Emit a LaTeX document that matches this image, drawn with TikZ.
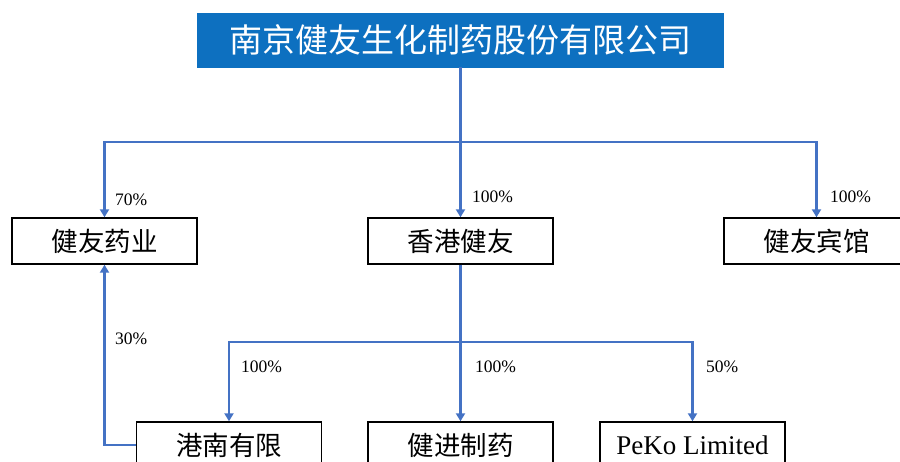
\documentclass[tikz,border=0pt]{standalone}
\usepackage{fontspec}
\setmainfont{Liberation Serif}
\newfontfamily\cjk{Noto Sans CJK SC}
\usetikzlibrary{arrows.meta}
\definecolor{headBlue}{HTML}{0D70C0}
\definecolor{lineBlue}{HTML}{4472C4}

\begin{document}
\begin{tikzpicture}[x = 1pt, y = -1pt]
	\tikzstyle{headStyle} = [draw = headBlue, fill = headBlue, text = white, minimum width = 526pt, minimum height = 54pt, inner sep = 0pt, font = \cjk\fontsize{33}{33}\selectfont]
	\tikzstyle{boxStyle} = [draw = black, line width = 1.4pt, minimum width = 185pt, minimum height = 46pt, inner sep = 0pt, font = \cjk\fontsize{26.5}{26.5}\selectfont]
	\tikzstyle{linkStyle} = [draw = lineBlue, line width = 2.8pt]
	\tikzstyle{arrowStyle} = [linkStyle, -{Triangle[width = 9pt, length = 8pt]}]
	\tikzstyle{shareStyle} = [anchor = west, inner sep = 0pt, font = \fontsize{17.5}{17.5}\selectfont]
	\clip (0, 0) rectangle (900, 462);
	\node[headStyle] (head) at (460.5, 40) {南京健友生化制药股份有限公司};
	\node[boxStyle] (yaoye) at (104.5, 241) {健友药业};
	\node[boxStyle] (xianggang) at (460.5, 241) {香港健友};
	\node[boxStyle] (binguan) at (816.5, 241) {健友宾馆};
	\node[boxStyle] (gangnan) at (229, 445) {港南有限};
	\node[boxStyle] (jianjin) at (460.5, 445) {健进制药};
	\node[boxStyle, font = \fontsize{27}{27}\selectfont] (peko) at (692.5, 445) {PeKo Limited};
	\coordinate (split1) at (460.5, 142);
	\coordinate (split2) at (460.5, 342);
	\draw[linkStyle] (head.south) -- (split1);
	\draw[arrowStyle] (split1) -| (yaoye.north);
	\draw[arrowStyle] (split1) -| (xianggang.north);
	\draw[arrowStyle] (split1) -| (binguan.north);
	\draw[linkStyle] (xianggang.south) -- (split2);
	\draw[arrowStyle] (split2) -| (gangnan.north);
	\draw[arrowStyle] (split2) -| (jianjin.north);
	\draw[arrowStyle] (split2) -| (peko.north);
	\draw[arrowStyle] (gangnan.west) -| (yaoye.south);
	\node[shareStyle] (s70) at (115, 200) {70\%};
	\node[shareStyle] (s100a) at (472, 197) {100\%};
	\node[shareStyle] (s100b) at (830, 197) {100\%};
	\node[shareStyle] (s30) at (115, 339) {30\%};
	\node[shareStyle] (s100c) at (241, 367) {100\%};
	\node[shareStyle] (s100d) at (475, 367) {100\%};
	\node[shareStyle] (s50) at (706, 367) {50\%};
\end{tikzpicture}
\end{document}
